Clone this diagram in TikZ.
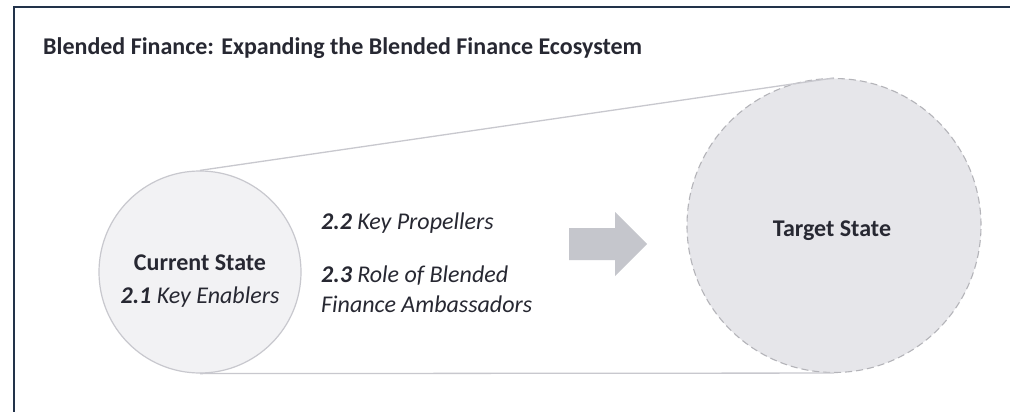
\documentclass[tikz,border=0pt]{standalone}
\usepackage{fontspec}
\setmainfont{Carlito}
\usetikzlibrary{positioning}
\definecolor{inkdark}{HTML}{272832}
\definecolor{framenavy}{HTML}{22324A}
\definecolor{ringgray}{HTML}{C8C8CE}
\definecolor{curfill}{HTML}{F2F2F4}
\definecolor{tgtfill}{HTML}{E6E6EA}
\definecolor{arrowgray}{HTML}{C5C6CC}
\tikzset{
  curstate/.style={ % small circle, where we start
    circle, draw=ringgray, fill=curfill, line width=1.2pt,
    minimum size=202pt, inner sep=0pt, text=inkdark, align=center
  },
  tgtstate/.style={ % big dashed circle, where we go
    circle, draw=ringgray!90!black, fill=tgtfill, dashed, line width=1.1pt,
    dash pattern=on 7pt off 4pt,
    minimum size=294pt, inner sep=0pt, text=inkdark
  },
  funnel/.style={draw=ringgray, line width=1.3pt},
  bigtxt/.style={text=inkdark, inner sep=0pt, font=\fontsize{24}{30}\selectfont},
  steptxt/.style={bigtxt, anchor=base west, align=left, font=\fontsize{24}{30}\selectfont\itshape}
}
\begin{document}
\begin{tikzpicture}[x=1pt, y=-1pt]
  \useasboundingbox (0,0) rectangle (1010,412);
  \fill[white] (0,0) rectangle (1010,412);
  \draw[framenavy, line width=1.2pt] (1012,7) -- (14,7) -- (14,414);

  \node[bigtxt, anchor=base west] (title) at (43,55)
    {\bfseries Blended Finance: Expanding the Blended Finance Ecosystem};

  % the two states
  \node[tgtstate] (tgt) at (834,225.5) {};
  \node[curstate] (cur) at (200,272) {};
  \draw[funnel] (cur.north) -- (tgt.north);
  \draw[funnel] (cur.south) -- (tgt.south);

  \node[bigtxt, anchor=base] (curname) at (200,270) {\bfseries Current State};
  \node[bigtxt, anchor=base] (enablers) at (200,303) {\textbf{\itshape 2.1} \itshape Key Enablers};
  \node[bigtxt, anchor=base] (tgtname) at (832,236) {\bfseries Target State};

  \node[steptxt] (propel) at (321,229) {\textbf{2.2} Key Propellers};
  \node[steptxt] (ambass) at (321,312) {\textbf{2.3} Role of Blended\\Finance Ambassadors};

  % block arrow
  \fill[arrowgray] (569,228) -- (615,228) -- (615,212) -- (647,244)
    -- (615,276) -- (615,260) -- (569,260) -- cycle;
\end{tikzpicture}
\end{document}
